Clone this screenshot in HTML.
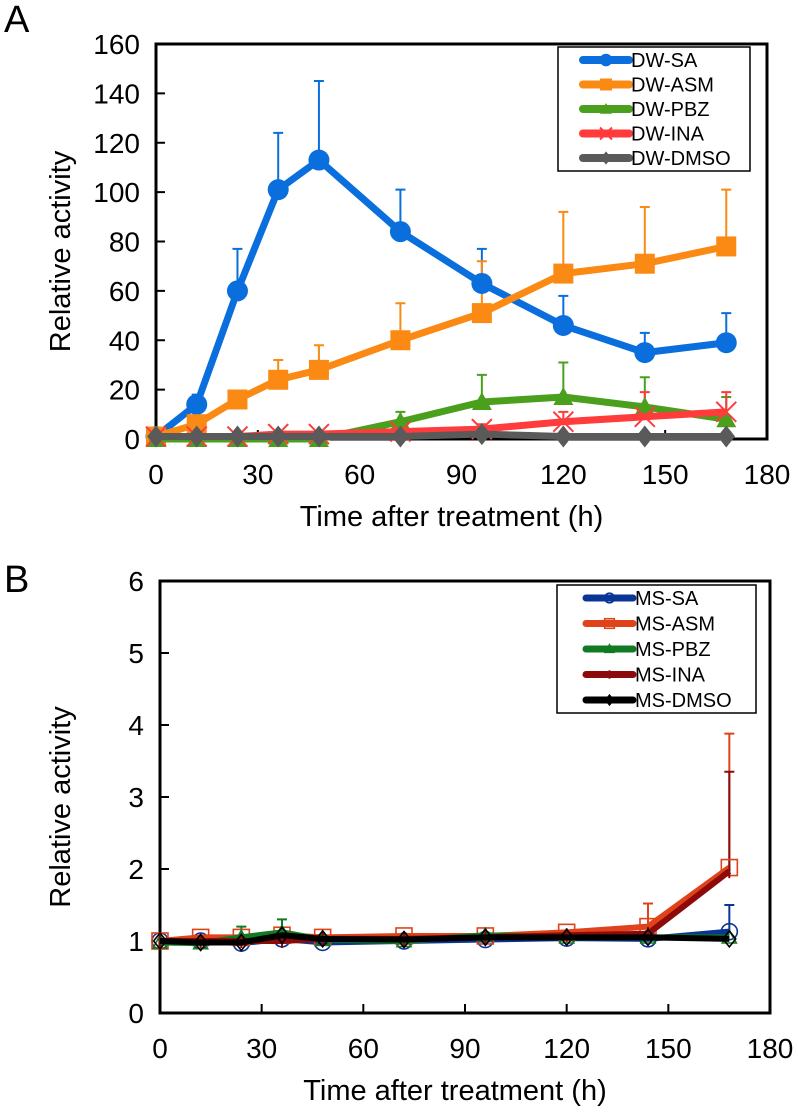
<!DOCTYPE html>
<html><head><meta charset="utf-8">
<style>
html,body{margin:0;padding:0;background:#fff;}
svg{display:block;font-family:"Liberation Sans",Arial,sans-serif;}
</style></head>
<body>
<svg id="fig" width="798" height="1112" viewBox="0 0 798 1112" xmlns="http://www.w3.org/2000/svg"></svg>
<script>
const hours = [0,12,24,36,48,72,96,120,144,168];
// Panel A values
const aSA = [1,14,60,101,113,84,63,46,35,39];
const aSAerr = [0,4,17,23,32,17,14,12,8,12];
const aASM = [1,6,16,24,28,40,51,67,71,78];
const aASMerr = [0,0,2,8,10,15,21,25,23,23];
const aPBZ = [0,0,0,0,0,7,15,17,13,8];
const aPBZerr = [0,0,0,0,0,4,11,14,12,9];
const aINA = [1,1,1,2,2,3,4,7,9,11];
const aINAerr = [0,0,0,0,0,0,2,4,10,8];
const aDMSO = [1,1,1,1,1,1,2,1,1,1];
const aDMSOerr = [0,0,0,0,0,0,0,0,0,0];
const aTicksY = [0,20,40,60,80,100,120,140,160];
// Panel B values
const bSA = [1.0,1.0,0.97,1.03,0.98,1.0,1.02,1.04,1.03,1.13];
const bSAerr = [0,0,0,0,0,0,0,0,0,0.37];
const bASM = [1.0,1.05,1.05,1.08,1.05,1.07,1.07,1.12,1.2,2.02];
const bASMerr = [0,0,0,0,0,0,0,0,0.32,1.86];
const bPBZ = [0.98,0.97,1.05,1.12,1.02,1.0,1.08,1.05,1.05,1.05];
const bPBZerr = [0,0,0.15,0.18,0,0,0,0,0,0];
const bINA = [1.0,1.0,1.0,1.0,1.03,1.03,1.05,1.08,1.1,1.97];
const bINAerr = [0,0,0,0,0,0,0,0,0.1,1.38];
const bDMSO = [1.0,0.98,0.98,1.08,1.03,1.02,1.05,1.05,1.05,1.03];
const bDMSOerr = [0,0,0,0,0,0,0,0,0,0];
const bTicksY = [0,1,2,3,4,5,6];
const xTicks = [0,30,60,90,120,150,180];

const NS="http://www.w3.org/2000/svg";
const svg=document.getElementById('fig');
function el(tag,attrs,parent,text){const e=document.createElementNS(NS,tag);for(const k in attrs)e.setAttribute(k,attrs[k]);if(text!==undefined)e.textContent=text;(parent||svg).appendChild(e);return e;}

function marker(g,type,x,y,color,open,s){
  const fill=open?'none':color, sw=open?1.6:0;
  let m;
  if(type==='circle') m=el('circle',{cx:x,cy:y,r:s,fill:fill,stroke:color,'stroke-width':sw},g);
  else if(type==='square') m=el('rect',{x:x-s,y:y-s,width:2*s,height:2*s,fill:fill,stroke:color,'stroke-width':sw},g);
  else if(type==='triangle') m=el('polygon',{points:`${x},${y-s} ${x+s},${y+s*0.8} ${x-s},${y+s*0.8}`,fill:fill,stroke:color,'stroke-width':sw},g);
  else if(type==='diamond') m=el('polygon',{points:`${x},${y-s} ${x+s*0.8},${y} ${x},${y+s} ${x-s*0.8},${y}`,fill:fill,stroke:color,'stroke-width':open?1.6:0},g);
  else if(type==='x'){m=el('path',{d:`M${x-s},${y-s}L${x+s},${y+s}M${x-s},${y+s}L${x+s},${y-s}`,stroke:color,'stroke-width':2,fill:'none'},g);}
  else if(type==='plus'){m=el('path',{d:`M${x},${y-s}L${x},${y+s}`,stroke:color,'stroke-width':2,fill:'none'},g);}
  return m;
}

function panel(cfg){
  const {L,R,T,B,ymax,ticksY,series,label,labelY,legend}=cfg;
  const xs=h=>L+(h/180)*(R-L);
  const ys=v=>B-(v/ymax)*(B-T);
  const g=el('g',{});
  
  
  const pl=el('text',{x:4,y:labelY,'font-size':38,fill:'#000'},g,label);
  
  
  const box=el('rect',{x:L,y:T,width:R-L,height:B-T,fill:'none',stroke:'#000','stroke-width':3},g);
  
  
  ticksY.forEach(t=>{
    const y=ys(t);
    if(t>0&&t<ymax) el('line',{x1:L,x2:L+9,y1:y,y2:y,stroke:'#000','stroke-width':2},g);
    const tl=el('text',{x:L-16,y:y+10,'font-size':28,'text-anchor':'end',fill:'#000'},g,String(t));
    
    
  });
  xTicks.forEach(t=>{
    const x=xs(t);
    if(t>0&&t<180) el('line',{x1:x,x2:x,y1:B,y2:B-9,stroke:'#000','stroke-width':2},g);
    const tl=el('text',{x:x,y:B+45,'font-size':28,'text-anchor':'middle',fill:'#000'},g,String(t));
    
    
  });
  const xt=el('text',{x:(L+R)/2-10,y:B+87,'font-size':29,'text-anchor':'middle',fill:'#000'},g,'Time after treatment (h)');
  
  
  const cy=(T+B)/2+10;
  const yt=el('text',{x:0,y:0,'font-size':29,'text-anchor':'middle',fill:'#000',transform:`translate(70,${cy}) rotate(-90)`},g,'Relative activity');
  
  
  series.forEach(s=>{
    s.vals.forEach((v,i)=>{
      if(s.err[i]>0){
        const x=xs(hours[i]),y1=ys(v),y2=ys(v+s.err[i]);
        const eb=el('path',{d:`M${x},${y1}L${x},${y2}M${x-5},${y2}L${x+5},${y2}`,stroke:s.color,'stroke-width':2,fill:'none'},g);
        
        
      }
    });
  });
  series.forEach(s=>{
    const pts=s.vals.map((v,i)=>xs(hours[i])+','+ys(v)).join(' ');
    const ln=el('polyline',{points:pts,fill:'none',stroke:s.color,'stroke-width':s.lw,'stroke-linejoin':'round'},g);
    
    
    s.vals.forEach((v,i)=>{
      const m=marker(g,s.marker,xs(hours[i]),ys(v),s.mcolor||s.color,s.open,s.ms);
      
      
    });
  });
  const lg=el('g',{},g);
  
  
  el('rect',{x:legend.x,y:legend.y,width:legend.w,height:legend.h,fill:'#fff',stroke:'#000','stroke-width':1.5},lg);
  series.forEach((s,i)=>{
    const y=legend.y0+i*legend.dy;
    const e=el('g',{},lg);
    
    
    el('line',{x1:legend.lx1,x2:legend.lx2,y1:y,y2:y,stroke:s.color,'stroke-width':s.lw+1,'stroke-linecap':'round'},e);
    marker(e,s.marker,(legend.lx1+legend.lx2)/2,y,s.mcolor||s.color,s.open,s.ms*0.6);
    el('text',{x:legend.lx2+2,y:y+7,'font-size':20,fill:'#000'},e,s.name);
  });
}

panel({name:'panel-a',L:156,R:767,T:44,B:439,ymax:160,ticksY:aTicksY,label:'A',labelY:32,
  series:[
    {name:'DW-SA',vals:aSA,err:aSAerr,color:'#0a6fdc',marker:'circle',ms:10.5,lw:7},
    {name:'DW-ASM',vals:aASM,err:aASMerr,color:'#fb8a14',marker:'square',ms:10,lw:7},
    {name:'DW-PBZ',vals:aPBZ,err:aPBZerr,color:'#4aa01c',marker:'triangle',ms:10,lw:7},
    {name:'DW-INA',vals:aINA,err:aINAerr,color:'#ff3b3b',marker:'x',ms:10,lw:7},
    {name:'DW-DMSO',vals:aDMSO,err:aDMSOerr,color:'#5a5a5a',marker:'diamond',ms:11,lw:7}
  ],
  legend:{x:558,y:47,w:192,h:124,y0:60,dy:24.5,lx1:583,lx2:629}
});
panel({name:'panel-b',L:160,R:770,T:581,B:1013,ymax:6,ticksY:bTicksY,label:'B',labelY:592,
  series:[
    {name:'MS-SA',vals:bSA,err:bSAerr,color:'#0a3596',marker:'circle',ms:8,lw:6,open:true},
    {name:'MS-ASM',vals:bASM,err:bASMerr,color:'#e0421a',marker:'square',ms:8,lw:6,open:true},
    {name:'MS-PBZ',vals:bPBZ,err:bPBZerr,color:'#117a22',marker:'triangle',ms:7,lw:6,open:true},
    {name:'MS-INA',vals:bINA,err:bINAerr,color:'#8c0a0a',marker:'plus',ms:7,lw:6},
    {name:'MS-DMSO',vals:bDMSO,err:bDMSOerr,color:'#000',marker:'diamond',ms:8,lw:6,open:true,mcolor:'#000'}
  ],
  legend:{x:557,y:585,w:199,h:128,y0:598,dy:25.5,lx1:586,lx2:633}
});
</script>
</body></html>
